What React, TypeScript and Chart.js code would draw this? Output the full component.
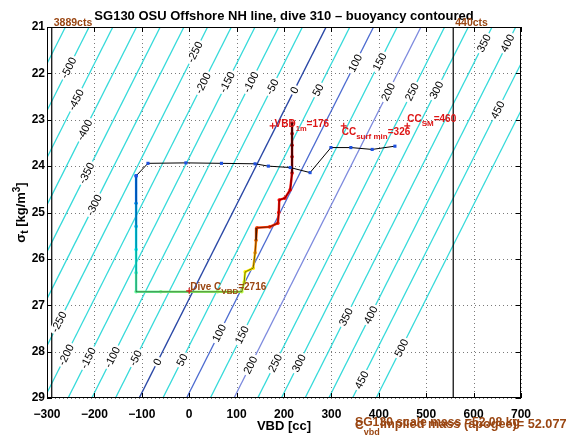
import React, { useEffect, useRef } from "react";
import { Chart, registerables } from "chart.js";

Chart.register(...registerables);

const FONT = "'Liberation Sans', Arial, Helvetica, sans-serif";

// ---------- data ----------
const titleText = "SG130 OSU Offshore NH line, dive 310 \u2013 buoyancy contoured";
const xAxisTitle = "VBD [cc]";

const vbdTicks = [-300, -200, -100, 0, 100, 200, 300, 400, 500, 600, 700];
const sigmaTicks = [21, 22, 23, 24, 25, 26, 27, 28, 29];

// buoyancy contour model: B = VBD + ccPerSigma * (sigma - sigmaNeutral)
const ccPerSigma = 49.3;
const sigmaNeutral = 26.86;
const contourLevels = [
  -550, -500, -450, -400, -350, -300, -250, -200, -150, -100, -50, 0, 50, 100, 150, 200, 250, 300, 350, 400, 450, 500,
];
const contourLabelLevels = [
  -500, -450, -400, -350, -300, -250, -200, -150, -100, -50, 0, 50, 100, 150, 200, 250, 300, 350, 400, 450,
  -250, -200, -150, -100, -50, 0, 50, 100, 150, 200, 250, 300, 350, 400, 450, 500,
];
const contourLabelSigma = [
  21.88, 22.57, 23.22, 24.15, 24.84, 21.54, 22.21, 22.19, 22.19, 22.29, 22.36, 22.36, 21.78, 21.75, 22.4, 22.4, 22.36, 21.35, 21.35, 22.79,
  27.36, 28.07, 28.14, 28.12, 28.14, 28.22, 28.18, 27.6, 27.64, 28.29, 28.25, 28.25, 27.25, 27.21, 28.61, 27.92,
];

// dive track (descent, apogee, climb), coloured by time
const diveVBD = [217, 217, 217, 217, 217, 213, 202, 190, 189, 187, 170, 143, 141, 139, 135, 118, 116, 111, 60, 0, -60, -112, -112, -112, -112, -112, -112];
const diveSigma = [23.07, 23.3, 23.55, 23.8, 24.15, 24.51, 24.69, 24.73, 25.0, 25.23, 25.31, 25.33, 25.6, 25.87, 26.2, 26.28, 26.5, 26.71, 26.71, 26.71, 26.71, 26.71, 26.3, 25.8, 25.3, 24.8, 24.21];
const diveTime = [5, 6, 7, 8, 9, 11, 12, 13, 14, 15, 17, 19, 24, 28, 35, 37, 40, 44, 47, 49, 51, 53, 58, 63, 68, 73, 78];
const diveDuration = 100;

// surface track
const surfVBD = [-112, -87, -7, 68, 139, 167, 213, 255, 299, 341, 386, 434];
const surfSigma = [24.21, 23.94, 23.93, 23.94, 23.95, 24.0, 24.03, 24.14, 23.6, 23.6, 23.64, 23.57];

// annotations
const vbd1m = 176;
const ccSurfMin = 326;
const ccSM = 460;
const surfaceMarkerSigma = 23.13;
const diveCVBDCounts = 2716;
const diveCVBD = 0;
const apogeeSigma = 26.69;
const minCounts = 3889;
const maxCounts = 440;
const vbdAtMinCounts = -290;
const vbdAtMaxCounts = 557;
const scaleMassText = "SG130 scale mass =52.08 kg";
const impliedMassText = "Implied mass (apogee)= 52.077 kg";

// ---------- helpers ----------
function contourVBD(level: number, sigma: number) {
  return level - ccPerSigma * (sigma - sigmaNeutral);
}
function jetReversed(t: number) {
  const x = 1 - Math.max(0, Math.min(1, t));
  const c = (v: number) => Math.round(255 * Math.max(0, Math.min(1, v)));
  return `rgb(${c(1.5 - Math.abs(4 * x - 3))},${c(1.5 - Math.abs(4 * x - 2))},${c(1.5 - Math.abs(4 * x - 1))})`;
}
function contourColor(level: number) {
  if (level === 0) return "#2a48a6";
  if (level === 100) return "#4c6bd0";
  if (level === 200) return "#7d8ade";
  return "#36dada";
}
type Part = { t: string; size: number; weight?: string; dy?: number };
function partsWidth(ctx: CanvasRenderingContext2D, parts: Part[]) {
  let w = 0;
  for (const p of parts) {
    ctx.font = `${p.weight ?? "bold"} ${p.size}px ${FONT}`;
    w += ctx.measureText(p.t).width;
  }
  return w;
}
function drawParts(ctx: CanvasRenderingContext2D, x: number, y: number, parts: Part[], color: string) {
  let cx = x;
  ctx.fillStyle = color;
  ctx.textAlign = "left";
  ctx.textBaseline = "alphabetic";
  for (const p of parts) {
    ctx.font = `${p.weight ?? "bold"} ${p.size}px ${FONT}`;
    ctx.fillText(p.t, cx, y + (p.dy ?? 0));
    cx += ctx.measureText(p.t).width;
  }
}
const fmtMinus = (v: number) => (v < 0 ? "\u2212" + Math.abs(v) : String(v));

const BROWN = "#9a4612";
const RED = "#dd1515";

const framePlugin = {
  id: "matlabFrame",
  beforeDatasetsDraw(chart: any) {
    const { ctx, chartArea: a, scales } = chart;
    const xs = scales.x, ys = scales.y;
    ctx.save();
    ctx.strokeStyle = "#7a7a7a";
    ctx.lineWidth = 1;
    ctx.setLineDash([1, 3]);
    for (const v of vbdTicks) {
      const px = Math.round(xs.getPixelForValue(v)) + 0.5;
      ctx.beginPath(); ctx.moveTo(px, a.top); ctx.lineTo(px, a.bottom); ctx.stroke();
    }
    for (const v of sigmaTicks) {
      const py = Math.round(ys.getPixelForValue(v)) + 0.5;
      ctx.beginPath(); ctx.moveTo(a.left, py); ctx.lineTo(a.right, py); ctx.stroke();
    }
    ctx.restore();
  },
  afterDatasetsDraw(chart: any) {
    const { ctx, chartArea: a, scales } = chart;
    const xs = scales.x, ys = scales.y;
    // contour labels
    ctx.save();
    ctx.beginPath();
    ctx.rect(a.left, a.top, a.right - a.left, a.bottom - a.top);
    ctx.clip();
    const dx = xs.getPixelForValue(ccPerSigma) - xs.getPixelForValue(0);
    const dy = ys.getPixelForValue(20) - ys.getPixelForValue(21);
    const ang = Math.atan2(dy, dx);
    ctx.font = `normal 11px ${FONT}`;
    ctx.textAlign = "center";
    ctx.textBaseline = "middle";
    contourLabelLevels.forEach((lvl, i) => {
      const s = contourLabelSigma[i];
      const px = xs.getPixelForValue(contourVBD(lvl, s));
      const py = ys.getPixelForValue(s);
      const txt = String(lvl);
      const w = ctx.measureText(txt).width;
      ctx.save();
      ctx.translate(px, py);
      ctx.rotate(ang);
      ctx.fillStyle = "#ffffff";
      ctx.fillRect(-w / 2 - 2, -5, w + 4, 10);
      ctx.fillStyle = "#000";
      ctx.fillText(txt, 0, 0.5);
      ctx.restore();
    });
    ctx.restore();

    // frame
    ctx.save();
    ctx.strokeStyle = "#000";
    ctx.lineWidth = 1;
    ctx.strokeRect(Math.round(a.left) + 0.5, Math.round(a.top) + 0.5, Math.round(a.right - a.left) - 1, Math.round(a.bottom - a.top) - 1);
    const tl = 5;
    ctx.beginPath();
    for (const v of vbdTicks) {
      const px = Math.round(xs.getPixelForValue(v)) + 0.5;
      ctx.moveTo(px, a.bottom); ctx.lineTo(px, a.bottom - tl);
      ctx.moveTo(px, a.top); ctx.lineTo(px, a.top + tl);
    }
    for (const v of sigmaTicks) {
      const py = Math.round(ys.getPixelForValue(v)) + 0.5;
      ctx.moveTo(a.left, py); ctx.lineTo(a.left + tl, py);
      ctx.moveTo(a.right, py); ctx.lineTo(a.right - tl, py);
    }
    ctx.stroke();
    ctx.restore();

    ctx.save();
    // title
    ctx.font = `bold 13px ${FONT}`;
    ctx.fillStyle = "#000";
    ctx.textAlign = "center";
    ctx.textBaseline = "alphabetic";
    ctx.fillText(titleText, (a.left + a.right) / 2, 20);
    // x title
    ctx.fillText(xAxisTitle, (a.left + a.right) / 2, 430);
    // y title
    const yParts: Part[] = [
      { t: "\u03c3", size: 13 },
      { t: "t", size: 10, dy: 3 },
      { t: " [kg/m", size: 13 },
      { t: "3", size: 10, dy: -5 },
      { t: "]", size: 13 },
    ];
    ctx.save();
    ctx.translate(25, (a.top + a.bottom) / 2);
    ctx.rotate(-Math.PI / 2);
    const yw = partsWidth(ctx, yParts);
    drawParts(ctx, -yw / 2, 0, yParts, "#000");
    ctx.restore();

    // count labels
    ctx.font = `bold 10.5px ${FONT}`;
    ctx.fillStyle = BROWN;
    ctx.textAlign = "left";
    ctx.fillText(`${minCounts}cts`, xs.getPixelForValue(vbdAtMinCounts) + 2, a.top - 1);
    ctx.fillText(`${maxCounts}cts`, xs.getPixelForValue(vbdAtMaxCounts) + 2, a.top - 1);

    // annotations
    const mSurfY = ys.getPixelForValue(surfaceMarkerSigma);
    const x1m = xs.getPixelForValue(vbd1m);
    drawParts(ctx, x1m + 2, mSurfY + 1, [
      { t: "VBD", size: 10 },
      { t: "1m", size: 7.5, dy: 4 },
      { t: `=${vbd1m}`, size: 10 },
    ], RED);
    const xsm = xs.getPixelForValue(ccSurfMin);
    drawParts(ctx, xsm - 2, mSurfY + 9, [
      { t: "CC", size: 10 },
      { t: "surf min", size: 8, dy: 4 },
      { t: `=${ccSurfMin}`, size: 10 },
    ], RED);
    const xSM = xs.getPixelForValue(ccSM);
    drawParts(ctx, xSM, mSurfY - 4, [
      { t: "CC", size: 10 },
      { t: "SM", size: 8, dy: 4 },
      { t: `=${ccSM}`, size: 10 },
    ], RED);
    const xc = xs.getPixelForValue(diveCVBD);
    const yc = ys.getPixelForValue(apogeeSigma);
    drawParts(ctx, xc + 1, yc - 1, [
      { t: "Dive C", size: 10 },
      { t: "VBD", size: 8, dy: 4 },
      { t: `=${diveCVBDCounts}`, size: 10 },
    ], BROWN);

    // bottom mass texts
    drawParts(ctx, 355, 426, [{ t: scaleMassText, size: 12.2 }], BROWN);
    drawParts(ctx, 355, 429, [
      { t: "C", size: 12.2 },
      { t: "vbd", size: 9, dy: 6 },
    ], BROWN);
    drawParts(ctx, 380, 428, [{ t: impliedMassText, size: 12.7 }], BROWN);
    ctx.restore();
  },
};

export default function App() {
  const ref = useRef<HTMLCanvasElement>(null);
  useEffect(() => {
    const canvas = ref.current;
    if (!canvas) return;
    const contourSets = contourLevels.map((lvl) => ({
      label: `c${lvl}`,
      data: [
        { x: contourVBD(lvl, sigmaTicks[0]), y: sigmaTicks[0] },
        { x: contourVBD(lvl, sigmaTicks[sigmaTicks.length - 1]), y: sigmaTicks[sigmaTicks.length - 1] },
      ],
      showLine: true,
      borderColor: contourColor(lvl),
      borderWidth: lvl === 0 ? 1.4 : 1.3,
      pointRadius: 0,
      order: 10,
    }));
    const divePts = diveVBD.map((v, i) => ({ x: v, y: diveSigma[i] }));
    const chart = new Chart(canvas, {
      type: "scatter",
      data: {
        datasets: [
          {
            label: "markers",
            data: [
              { x: vbd1m, y: surfaceMarkerSigma },
              { x: ccSurfMin, y: surfaceMarkerSigma },
              { x: ccSM, y: surfaceMarkerSigma },
              { x: diveCVBD, y: apogeeSigma },
            ],
            pointStyle: "cross",
            pointRadius: 3,
            borderColor: RED,
            borderWidth: 1.2,
            showLine: false,
            order: 0,
          },
          {
            label: "surface",
            data: surfVBD.map((v, i) => ({ x: v, y: surfSigma[i] })),
            showLine: true,
            borderColor: "#000",
            borderWidth: 1,
            pointStyle: "rect",
            pointRadius: 2.2,
            pointBackgroundColor: "#1f52e0",
            pointBorderWidth: 0,
            order: 1,
          },
          {
            label: "diveBlack",
            data: divePts,
            showLine: true,
            borderColor: "rgba(0,0,0,0.75)",
            borderWidth: 0.7,
            pointRadius: 0,
            order: 2,
          },
          {
            label: "dive",
            data: divePts,
            showLine: true,
            borderWidth: 2.4,
            segment: {
              borderColor: (c: any) =>
                jetReversed((diveTime[c.p0DataIndex] + diveTime[c.p1DataIndex]) / 2 / diveDuration),
            },
            pointRadius: 1.8,
            pointBackgroundColor: diveTime.map((t) => jetReversed(t / diveDuration)),
            pointBorderWidth: 0,
            order: 3,
          },
          {
            label: "minCounts",
            data: [{ x: vbdAtMinCounts, y: 21 }, { x: vbdAtMinCounts, y: 29 }],
            showLine: true,
            borderColor: "#000",
            borderWidth: 1.2,
            pointRadius: 0,
            order: 4,
          },
          {
            label: "maxCounts",
            data: [{ x: vbdAtMaxCounts, y: 21 }, { x: vbdAtMaxCounts, y: 29 }],
            showLine: true,
            borderColor: "#000",
            borderWidth: 1.2,
            pointRadius: 0,
            order: 4,
          },
          ...contourSets,
        ] as any,
      },
      options: {
        animation: false,
        responsive: true,
        maintainAspectRatio: false,
        events: [],
        layout: { padding: { left: 0, right: 49, top: 27, bottom: 0 } },
        plugins: { legend: { display: false }, tooltip: { enabled: false }, title: { display: false } },
        scales: {
          x: {
            type: "linear",
            min: vbdTicks[0],
            max: vbdTicks[vbdTicks.length - 1],
            afterFit: (s: any) => { s.height = 41; },
            afterBuildTicks: (s: any) => { s.ticks = vbdTicks.map((v) => ({ value: v })); },
            grid: { display: false, drawTicks: false },
            border: { display: false },
            ticks: {
              autoSkip: false,
              maxRotation: 0,
              padding: 9,
              color: "#000",
              font: { family: FONT, size: 12, weight: "bold" },
              callback: (v: any) => fmtMinus(Number(v)),
            },
          },
          y: {
            type: "linear",
            reverse: true,
            min: sigmaTicks[0],
            max: sigmaTicks[sigmaTicks.length - 1],
            afterFit: (s: any) => { s.width = 47; },
            afterBuildTicks: (s: any) => { s.ticks = sigmaTicks.map((v) => ({ value: v })); },
            grid: { display: false, drawTicks: false },
            border: { display: false },
            ticks: {
              autoSkip: false,
              padding: 2,
              color: "#000",
              font: { family: FONT, size: 12, weight: "bold" },
              callback: (v: any) => String(v),
            },
          },
        },
      } as any,
      plugins: [framePlugin],
    });
    return () => chart.destroy();
  }, []);
  return (
    <div style={{ position: "absolute", left: 0, top: 0, width: 570, height: 439, background: "#fff" }}>
      <canvas ref={ref} />
    </div>
  );
}
